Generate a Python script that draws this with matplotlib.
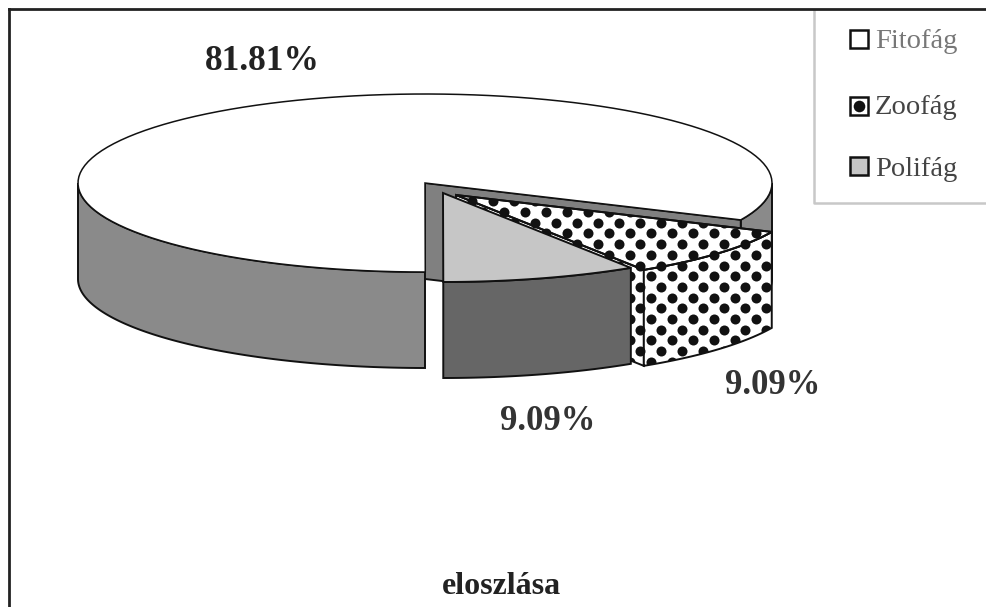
import numpy as np
import matplotlib
matplotlib.use('Agg')
import matplotlib.pyplot as plt
from matplotlib.patches import Polygon, Rectangle

labels = ['Fitofág', 'Zoofág', 'Polifág']
values = [81.81, 9.09, 9.09]
value_labels = ['81.81%', '9.09%', '9.09%']
title = 'eloszlása'

plt.rcParams['font.family'] = ['Liberation Serif', 'DejaVu Serif']

RX = 347
RY = 89
DEPTH = 96
START = -24.5
centers = [(425, 183), (456, 195), (443, 193)]
GRAY_WALL = '#8a8a8a'
GRAY_CUT = '#808080'
GRAY_FRONT = '#666666'
GRAY_TOP = '#c6c6c6'
INK = '#111111'


def arc(center, a1, a2, drop=0):
    t = np.radians(np.linspace(a1, a2, 120))
    return np.column_stack([center[0] + RX * np.cos(t), center[1] - RY * np.sin(t) + drop])


def add_poly(ax, pts, face, lw=1.4, zorder=2):
    p = Polygon(pts, closed=True, facecolor=face, edgecolor=INK, linewidth=lw, zorder=zorder)
    ax.add_patch(p)
    return p


def wall(ax, center, a1, a2, face, zorder):
    top = arc(center, a1, a2)
    bottom = arc(center, a2, a1, DEPTH)
    return add_poly(ax, np.vstack([top, bottom]), face, zorder=zorder)


def cut_wall(ax, center, angle, face, zorder):
    rim = arc(center, angle, angle)[0]
    return add_poly(ax, [center, rim, rim + [0, DEPTH], (center[0], center[1] + DEPTH)], face, zorder=zorder)


def dots(ax, clip, zorder):
    # staggered dot pattern, clipped to the face
    xs, ys = [], []
    for i, y in enumerate(np.arange(180, 400, 10.7)):
        off = 10.5 if i % 2 else 0
        for x in np.arange(430 + off, 800, 21):
            xs.append(x)
            ys.append(y)
    sc = ax.scatter(xs, ys, s=52, color=INK, linewidths=0, zorder=zorder)
    sc.set_clip_path(clip)


fig = plt.figure(figsize=(9.87, 6.07), dpi=100)
ax = fig.add_axes([0, 0, 1, 1])
ax.set_xlim(0, 987)
ax.set_ylim(607, 0)
ax.axis('off')

# slice angles come from the values
sweeps = [v / sum(values) * 360 for v in values]
a_big_end = START + sweeps[0]
a_zoo_end = START - sweeps[1]
a_pol_end = a_zoo_end - sweeps[2]

# big slice
c = centers[0]
wall(ax, c, -180, -90, GRAY_WALL, 2)
wall(ax, c, START, 0, GRAY_WALL, 2)
cut_wall(ax, c, START, GRAY_CUT, 2)
add_poly(ax, np.vstack([[c], arc(c, START, a_big_end)]), 'white', lw=1.1, zorder=3)

# zoofag slice
c = centers[1]
p = cut_wall(ax, c, a_zoo_end, 'white', 4)
dots(ax, p, 4.5)
p = wall(ax, c, a_zoo_end, START, 'white', 5)
dots(ax, p, 5.5)
top_pts = np.vstack([[c], arc(c, a_zoo_end, START)])
p = add_poly(ax, top_pts, 'white', zorder=6)
dots(ax, p, 7)
add_poly(ax, top_pts, 'none', zorder=8)

# polifag slice
c = centers[2]
wall(ax, c, a_pol_end, a_zoo_end, GRAY_FRONT, 9)
add_poly(ax, np.vstack([[c], arc(c, a_pol_end, a_zoo_end)]), GRAY_TOP, zorder=10)

# value labels
ax.text(262, 61, value_labels[0], ha='center', va='center', fontsize=25.5, fontweight='bold', color='#222222')
ax.text(773, 386, value_labels[1], ha='center', va='center', fontsize=25, fontweight='bold', color='#333333')
ax.text(548, 421, value_labels[2], ha='center', va='center', fontsize=25, fontweight='bold', color='#333333')
ax.text(501, 587, title, ha='center', va='center', fontsize=23, fontweight='bold', color='#222222')

# outer frame
ax.plot([9, 9], [607, 9], color='#222222', lw=2, zorder=12)
ax.plot([9, 987], [9, 9], color='#222222', lw=2, zorder=12)

# legend box
ax.plot([814, 814, 987], [10, 203, 203], color='#c8c8c8', lw=1.8, zorder=11)
leg_y = [39, 106, 166]
leg_text_y = [41, 108, 170]
leg_face = ['white', 'white', GRAY_TOP]
leg_text = ['#777777', '#444444', '#444444']
for name, y, ty, face, col in zip(labels, leg_y, leg_text_y, leg_face, leg_text):
    ax.add_patch(Rectangle((850, y - 9), 18, 18, facecolor=face, edgecolor=INK, linewidth=1.8, zorder=12))
    ax.text(875, ty, name, ha='left', va='center', fontsize=20.5, color=col, zorder=12)
ax.scatter([859], [leg_y[1]], s=70, color=INK, linewidths=0, zorder=13)

fig.savefig('out.png', dpi=100)
